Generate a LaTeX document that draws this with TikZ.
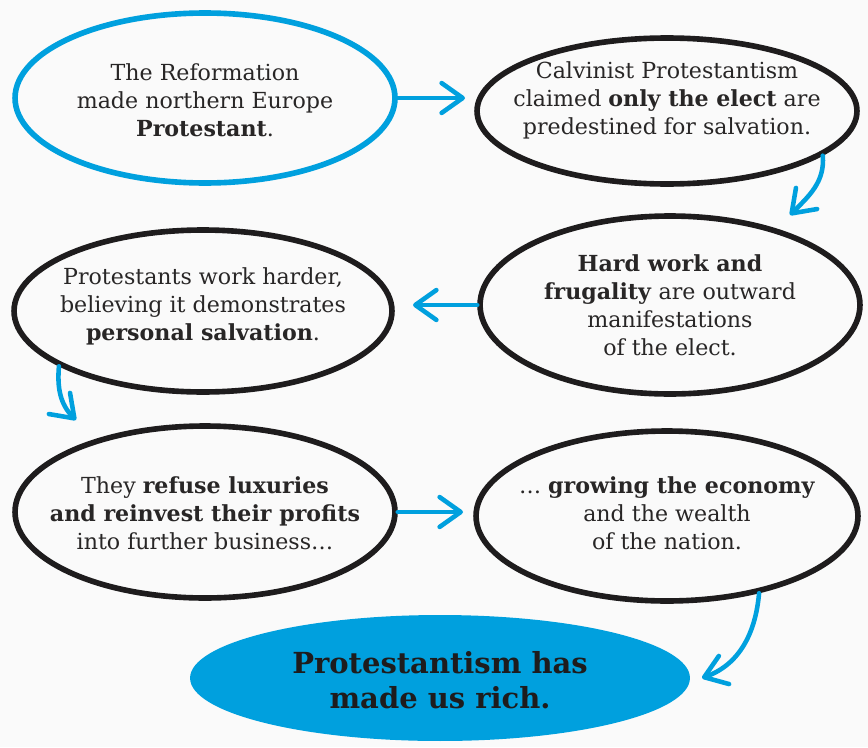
\documentclass[tikz,border=0pt]{standalone}
\usepackage{fontspec}
\setmainfont{DejaVu Serif}
\usetikzlibrary{shapes.geometric, arrows.meta, calc}
\definecolor{cyanblue}{RGB}{0, 160, 222}
\definecolor{ink}{RGB}{30, 28, 29}
\definecolor{paper}{RGB}{250, 250, 250}
\definecolor{txtgray}{RGB}{40, 38, 38}

\begin{document}
\begin{tikzpicture}[x=0.02cm, y=0.02cm,
  bubble/.style={ellipse, draw=ink, line width=3.2pt, inner sep=0pt,
    minimum width=7.6cm, minimum height=3.4cm},
  txt/.style={font=\fontsize{12.6pt}{15.9pt}\selectfont, text=txtgray,
    align=center, inner sep=0pt},
  bigtxt/.style={font=\fontsize{16.5pt}{20pt}\selectfont\bfseries, text=ink,
    align=center, inner sep=0pt},
  flow/.style={-{Straight Barb[length=12pt, width=17pt, round]},
    line width=2.6pt, color=cyanblue, line cap=round}
]
\useasboundingbox[fill=paper] (0,0) rectangle (868,-747);
% bubbles
\node[bubble, draw=cyanblue]                  at (205,-98)  (reform) {};
\node[bubble, minimum height=2.92cm]          at (667,-111) (calvin) {};
\node[bubble, minimum height=3.56cm]          at (670,-305) (hard)   {};
\node[bubble, minimum width=7.56cm,
      minimum height=3.24cm]                  at (203,-311) (work)   {};
\node[bubble, minimum height=3.44cm]          at (205,-512) (luxury) {};
\node[bubble, minimum width=7.64cm]           at (667,-516) (growth) {};
\node[ellipse, fill=cyanblue, inner sep=0pt,
      minimum width=10cm, minimum height=2.52cm] at (440,-678) (rich) {};
% texts
\node[txt] at (205,-100) {The Reformation\\made northern Europe\\\textbf{Protestant}.};
\node[txt] at (667,-100) {Calvinist Protestantism\\claimed \textbf{only the elect} are\\predestined for salvation.};
\node[txt] at (670,-305) {\textbf{Hard work and}\\\textbf{frugality} are outward\\manifestations\\of the elect.};
\node[txt] at (203,-306) {Protestants work harder,\\believing it demonstrates\\\textbf{personal salvation}.};
\node[txt] at (205,-513) {They \textbf{refuse luxuries}\\\textbf{and reinvest their profits}\\into further business\ldots};
\node[txt] at (667,-513) {\ldots{} \textbf{growing the economy}\\and the wealth\\of the nation.};
\node[bigtxt] at (440,-680) {Protestantism has\\made us rich.};
% arrow tips
\coordinate (tip1) at (465,-98);
\coordinate (tip2) at (790,-215);
\coordinate (tip3) at (413,-305);
\coordinate (tip4) at (76,-420);
\coordinate (tip5) at (463,-512);
\coordinate (tip6) at (702,-678);
% connectors
\draw[flow] (reform.east) -- (tip1);
\draw[flow] (calvin.-16) to[out=-85, in=45] (tip2);
\draw[flow] (hard.west) -- (tip3);
\draw[flow] (work.-159) to[out=-95, in=135] (tip4);
\draw[flow] (luxury.east) -- (tip5);
\draw[flow] (growth.-40) to[out=-95, in=20] (tip6);
\end{tikzpicture}
\end{document}
